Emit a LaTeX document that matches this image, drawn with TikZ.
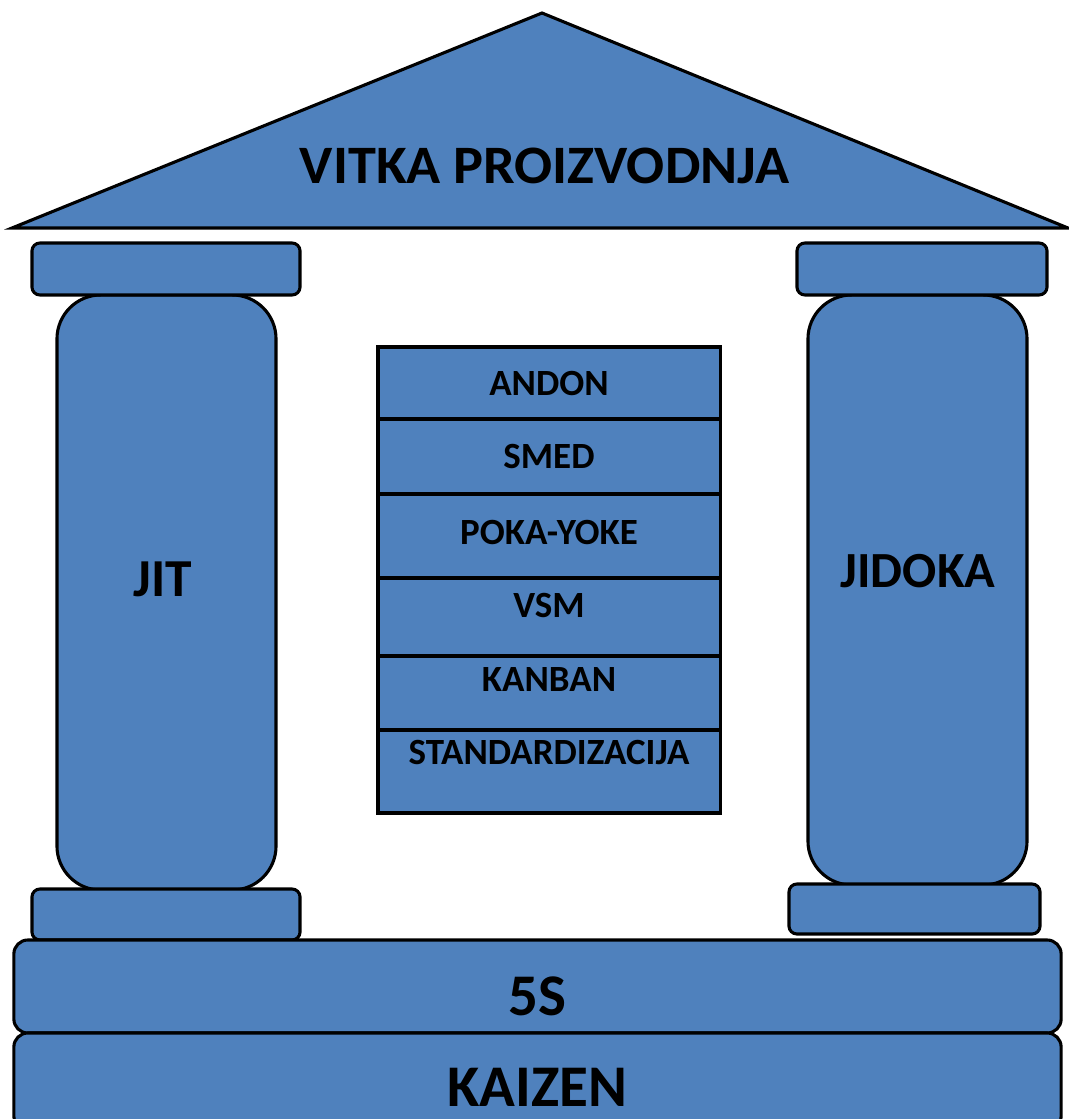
\documentclass[tikz,border=0pt]{standalone}
\usepackage{fontspec}
\setmainfont{Carlito}
\usepackage{xcolor}
\usepackage{tikz}
\usetikzlibrary{positioning}
\definecolor{house}{RGB}{79, 129, 189}
\tikzstyle{slab} = [rectangle, rounded corners=0.35cm, draw=black, line width=2.2pt, fill=house, inner sep=0pt]
\tikzstyle{capbox} = [rectangle, rounded corners=0.2cm, draw=black, line width=2.2pt, fill=house, inner sep=0pt]
\tikzstyle{shaft} = [rectangle, rounded corners=1.1cm, draw=black, line width=2.2pt, fill=house, inner sep=0pt]
\tikzstyle{tool} = [rectangle, draw=black, line width=2.2pt, fill=house, inner sep=0pt, minimum width=8.55cm]
\tikzstyle{bigtext} = [font=\fontsize{42}{42}\selectfont\bfseries, inner sep=0pt]
\tikzstyle{midtext} = [font=\fontsize{36}{36}\selectfont\bfseries, inner sep=0pt]
\tikzstyle{smalltext} = [font=\fontsize{26.3}{26}\selectfont\bfseries, inner sep=0pt]

\begin{document}
\begin{tikzpicture}[x=0.025cm, y=-0.025cm]
\useasboundingbox (0,0) rectangle (1069,1119);
\clip (0,0) rectangle (1069,1119);

% Roof
\draw[line width=2.2pt, fill=house, line join=miter] (12,228) -- (542,13) -- (1068,228) -- cycle;
\node[font=\fontsize{38.5}{38}\selectfont\bfseries, inner sep=0pt, xscale=1.04] (roof) at (544.5,166) {VITKA PROIZVODNJA};

% Left pillar (JIT)
\node[shaft, minimum width=5.475cm, minimum height=14.875cm] (jitshaft) at (166.5,592.5) {};
\node[capbox, minimum width=6.7cm, minimum height=1.3cm] (jittop) at (166,269) {};
\node[capbox, minimum width=6.7cm, minimum height=1.275cm] (jitbase) at (166,914.5) {};
\node[midtext, font=\fontsize{38}{38}\selectfont\bfseries] (jit) at (163,579) {JIT};

% Right pillar (JIDOKA)
\node[shaft, minimum width=5.475cm, minimum height=14.75cm] (jidshaft) at (917.5,590) {};
\node[capbox, minimum width=6.25cm, minimum height=1.3cm] (jidtop) at (922,269) {};
\node[capbox, minimum width=6.275cm, minimum height=1.25cm] (jidbase) at (914.5,909) {};
\node[midtext] (jidoka) at (918,571) {JIDOKA};

% Tools in the middle
\node[tool, minimum height=1.8cm] (andon) at (549,383) {};
\node[tool, minimum height=1.875cm] (smed) at (549,456.5) {};
\node[tool, minimum height=2.1cm] (poka) at (549,536) {};
\node[tool, minimum height=1.95cm] (vsm) at (549,617) {};
\node[tool, minimum height=1.85cm] (kanban) at (549,693) {};
\node[tool, minimum height=2.075cm] (standard) at (549,771.5) {};
\node[smalltext] (andontxt) at (andon.center) {ANDON};
\node[smalltext] (smedtxt) at (smed.center) {SMED};
\node[smalltext] (pokatxt) at (549,532) {POKA-YOKE};
\node[smalltext] (vsmtxt) at (549,605) {VSM};
\node[smalltext] (kanbantxt) at (549,679) {KANBAN};
\node[smalltext] (standardtxt) at (549,752) {STANDARDIZACIJA};

% Foundation
\node[slab, minimum width=26.175cm, minimum height=2.325cm] (fives) at (537.5,986.5) {};
\node[slab, minimum width=26.175cm, minimum height=2.425cm] (kaizen) at (537.5,1081.5) {};
\node[bigtext] (fivestxt) at (537.5,996) {5S};
\node[bigtext] (kaizentxt) at (537.5,1087) {KAIZEN};

\end{tikzpicture}
\end{document}
